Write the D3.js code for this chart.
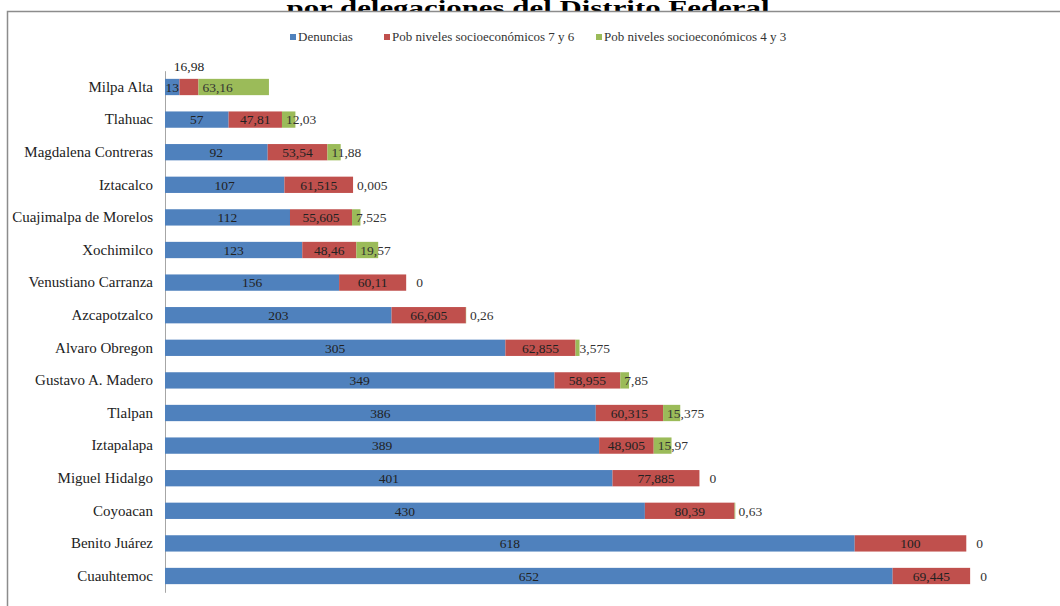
<!DOCTYPE html>
<html>
<head>
<meta charset="utf-8">
<script src="https://cdn.jsdelivr.net/npm/d3@7"></script>
<style>
  html, body { margin: 0; padding: 0; background: #fff; }
  svg { display: block; }
</style>
</head>
<body>
<svg id="chart" width="1060" height="606"></svg>
<script>
const categories = ["Milpa Alta", "Tlahuac", "Magdalena Contreras", "Iztacalco", "Cuajimalpa de Morelos", "Xochimilco", "Venustiano Carranza", "Azcapotzalco", "Alvaro Obregon", "Gustavo A. Madero", "Tlalpan", "Iztapalapa", "Miguel Hidalgo", "Coyoacan", "Benito Juárez", "Cuauhtemoc"];
const denuncias = [13, 57, 92, 107, 112, 123, 156, 203, 305, 349, 386, 389, 401, 430, 618, 652];
const pob76 = [16.98, 47.81, 53.54, 61.515, 55.605, 48.46, 60.11, 66.605, 62.855, 58.955, 60.315, 48.905, 77.885, 80.39, 100, 69.445];
const pob43 = [63.16, 12.03, 11.88, 0.005, 7.525, 19.57, 0, 0.26, 3.575, 7.85, 15.375, 15.97, 0, 0.63, 0, 0];
const seriesNames = ["Denuncias", "Pob niveles socioeconómicos 7 y 6", "Pob niveles socioeconómicos 4 y 3"];
const colors = ["#4f81bd", "#c0504d", "#9bbb59"];
const titleText = "por delegaciones del Distrito Federal";

const svg = d3.select("#chart");
const serif = "Liberation Serif, Times New Roman, DejaVu Serif, serif";

// title (partially hidden by chart frame)
svg.append("text")
  .attr("x", 528).attr("y", 15)
  .attr("text-anchor", "middle")
  .attr("font-family", serif).attr("font-weight", "bold").attr("font-size", 22)
  .attr("textLength", 483).attr("lengthAdjust", "spacingAndGlyphs")
  .attr("fill", "#000")
  .text(titleText);

// chart frame
svg.append("rect")
  .attr("x", 7.5).attr("y", 11.5).attr("width", 1070).attr("height", 620)
  .attr("fill", "#fff").attr("stroke", "#8c8c8c").attr("stroke-width", 1.5);

const table = categories.map((c, i) => ({ cat: c, s0: denuncias[i], s1: pob76[i], s2: pob43[i] }));
const stack = d3.stack().keys(["s0", "s1", "s2"])(table);

const x = d3.scaleLinear().domain([0, 800]).range([165, 165 + 800 * 1.116]);
const y = d3.scaleBand().domain(categories).range([70.7, 592.3]).paddingInner(0.5).paddingOuter(0.25);

// y axis
const yAxis = d3.axisLeft(y).tickSize(0).tickPadding(12);
const gy = svg.append("g").attr("transform", `translate(${x(0)},0)`).call(yAxis);
gy.attr("font-family", serif);
gy.select(".domain").attr("stroke", "#a6a6a6").attr("stroke-width", 1);
gy.selectAll("text")
  .attr("font-family", serif).attr("font-size", 15).attr("fill", "#222");

const fmt = v => String(v).replace(".", ",");

stack.forEach((layer, k) => {
  const g = svg.append("g");
  g.selectAll("rect").data(layer).join("rect")
    .attr("x", d => x(d[0]))
    .attr("y", d => y(d.data.cat))
    .attr("width", d => Math.max(0, x(d[1]) - x(d[0])))
    .attr("height", y.bandwidth())
    .attr("fill", colors[k]);

  g.selectAll("text").data(layer).join("text")
    .attr("font-family", serif).attr("font-size", 13.5)
    .attr("fill", k === 2 ? "#333" : "#222")
    .attr("dy", "0.35em")
    .each(function (d) {
      const t = d3.select(this);
      const w = x(d[1]) - x(d[0]);
      const cy = y(d.data.cat) + y.bandwidth() / 2;
      const val = k === 0 ? d.data.s0 : k === 1 ? d.data.s1 : d.data.s2;
      if (k === 2) {
        t.attr("x", x(d[0]) + (val === 0 ? 10 : 4)).attr("y", cy).attr("text-anchor", "start");
      } else if (k === 1 && w < 25) {
        t.attr("x", (x(d[0]) + x(d[1])) / 2).attr("y", cy - 21).attr("text-anchor", "middle");
      } else {
        t.attr("x", (x(d[0]) + x(d[1])) / 2).attr("y", cy).attr("text-anchor", "middle");
      }
      t.text(fmt(val));
    });
});

// legend
const legendX = [290, 384, 596];
const lg = svg.append("g");
seriesNames.forEach((name, i) => {
  lg.append("rect").attr("x", legendX[i]).attr("y", 34).attr("width", 6).attr("height", 6).attr("fill", colors[i]);
  lg.append("text").attr("x", legendX[i] + 8).attr("y", 41)
    .attr("font-family", serif).attr("font-size", 13).attr("fill", "#333")
    .text(name);
});
</script>
</body>
</html>
